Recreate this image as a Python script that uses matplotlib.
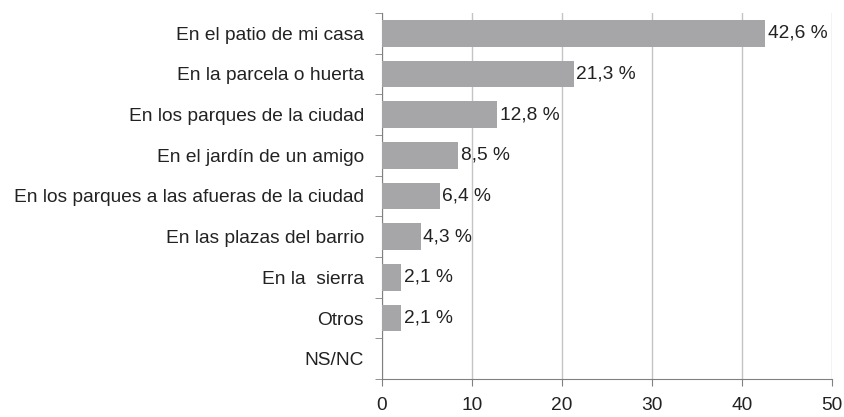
import matplotlib.pyplot as plt
import numpy as np

plt.rcParams['font.family'] = ['Liberation Sans', 'DejaVu Sans']

categories = ['En el patio de mi casa', 'En la parcela o huerta', 'En los parques de la ciudad',
              'En el jardín de un amigo', 'En los parques a las afueras de la ciudad',
              'En las plazas del barrio', 'En la  sierra', 'Otros', 'NS/NC']
values = [42.6, 21.3, 12.8, 8.5, 6.4, 4.3, 2.1, 2.1, 0]
labels = ['42,6 %', '21,3 %', '12,8 %', '8,5 %', '6,4 %', '4,3 %', '2,1 %', '2,1 %', '']

fig, ax = plt.subplots(figsize=(8.44, 4.17), dpi=100)
fig.subplots_adjust(left=0.4526, right=0.9858, top=0.969, bottom=0.091)

y = np.arange(len(categories))
bars = ax.barh(y, values, height=0.66, color='#a6a6a8', zorder=3)
for b, lab in zip(bars, labels):
    if lab:
        ax.text(b.get_width() + 0.3, b.get_y() + b.get_height() / 2, lab,
                va='center', ha='left', fontsize=13.8, color='#222222', zorder=4)

ax.set_xlim(0, 50)
ax.set_ylim(len(categories) - 0.5, -0.5)
ax.set_xticks(np.arange(0, 51, 10))
ax.set_yticks(y)
ax.set_yticklabels(categories)
ax.set_yticks(np.arange(-0.5, len(categories), 1), minor=True)
ax.tick_params(axis='y', which='major', length=0, pad=13, labelsize=13.8, labelcolor='#222222')
ax.tick_params(axis='y', which='minor', length=5, color='#808080')
ax.tick_params(axis='x', length=5, color='#808080', labelsize=13.8, labelcolor='#222222', pad=8)
ax.grid(axis='x', color='#c4c4c4', linewidth=1, zorder=0)

for s in ['top', 'right']:
    ax.spines[s].set_visible(False)
for s in ['left', 'bottom']:
    ax.spines[s].set_color('#808080')

plt.savefig('out.png')
